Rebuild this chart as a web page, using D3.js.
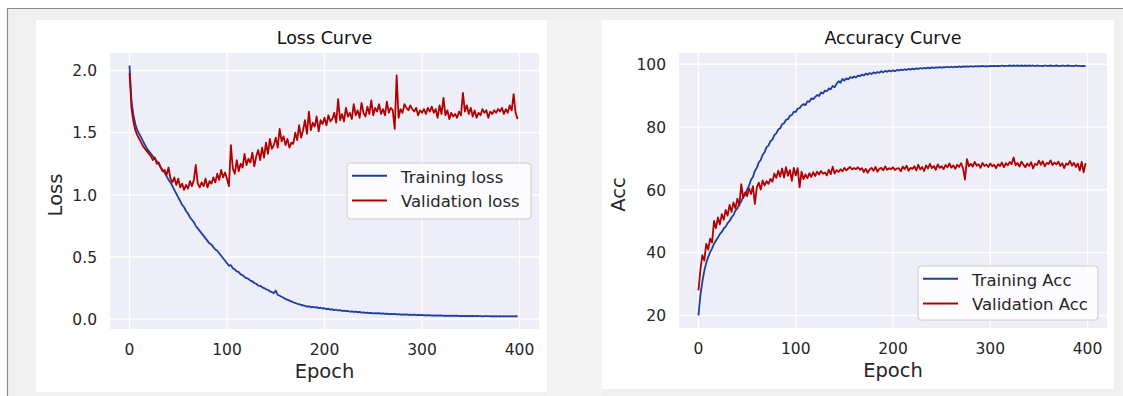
<!DOCTYPE html>
<head>
  <meta charset="utf-8">
  <style>
    body { margin: 0; background: #fff; }
    svg { display: block; font-family: "DejaVu Sans", sans-serif; }
    .plotbg { fill: #eeeef8; }
    .grid line { stroke: #fff; stroke-width: 1.3; }
    .tick-label { font-size: 15.5px; fill: #262626; }
    .axis-title { font-size: 19.5px; fill: #262626; }
    .chart-title { font-size: 17.5px; fill: #111; }
    .legend text { font-size: 16.5px; fill: #262626; }
    .train { stroke: #1c3f9f; }
    .valid { stroke: #b10000; }
  </style>
  <script src="https://d3js.org/d3.v7.min.js"></script>
</head>

<body>
  <div id="content"></div>
  <script>
  // epochs (x), every 2nd epoch
  var epochs = d3.range(0, 400, 2);

  var trainLoss = [
    2.04, 1.76, 1.64, 1.57, 1.52, 1.49, 1.46, 1.43, 1.40, 1.37,
    1.35, 1.33, 1.31, 1.29, 1.27, 1.25, 1.22, 1.20, 1.18, 1.15,
    1.12, 1.10, 1.07, 1.04, 1.01, 0.98, 0.95, 0.92, 0.90, 0.87,
    0.85, 0.82, 0.80, 0.78, 0.75, 0.73, 0.71, 0.69, 0.67, 0.65,
    0.63, 0.61, 0.60, 0.58, 0.56, 0.55, 0.53, 0.51, 0.49, 0.47,
    0.45, 0.43, 0.435, 0.41, 0.40, 0.385, 0.38, 0.36, 0.355, 0.34,
    0.33, 0.325, 0.31, 0.305, 0.29, 0.285, 0.27, 0.268, 0.258, 0.25,
    0.24, 0.236, 0.224, 0.218, 0.208, 0.23, 0.196, 0.188, 0.18, 0.172,
    0.162, 0.157, 0.149, 0.143, 0.136, 0.132, 0.124, 0.121, 0.114, 0.112,
    0.108, 0.101, 0.104, 0.096, 0.099, 0.094, 0.097, 0.089, 0.092, 0.086,
    0.088, 0.081, 0.084, 0.077, 0.080, 0.073, 0.076, 0.070, 0.073, 0.066,
    0.069, 0.064, 0.066, 0.061, 0.063, 0.058, 0.060, 0.056, 0.058, 0.053,
    0.055, 0.051, 0.053, 0.049, 0.051, 0.047, 0.049, 0.046, 0.048, 0.044,
    0.046, 0.043, 0.045, 0.041, 0.043, 0.040, 0.042, 0.039, 0.040, 0.037,
    0.039, 0.036, 0.038, 0.035, 0.037, 0.034, 0.036, 0.033, 0.035, 0.032,
    0.034, 0.031, 0.033, 0.030, 0.032, 0.029, 0.031, 0.029, 0.030, 0.028,
    0.030, 0.027, 0.029, 0.027, 0.029, 0.026, 0.028, 0.026, 0.028, 0.025,
    0.027, 0.025, 0.027, 0.025, 0.026, 0.024, 0.026, 0.024, 0.026, 0.024,
    0.025, 0.023, 0.025, 0.024, 0.025, 0.023, 0.025, 0.023, 0.024, 0.023,
    0.024, 0.022, 0.024, 0.023, 0.024, 0.022, 0.024, 0.023, 0.024, 0.023
  ];

  var valLoss = [
    1.98, 1.70, 1.59, 1.52, 1.48, 1.45, 1.42, 1.39, 1.37, 1.35,
    1.33, 1.31, 1.28, 1.30, 1.25, 1.26, 1.22, 1.19, 1.20, 1.16,
    1.22, 1.13, 1.10, 1.14, 1.08, 1.13, 1.06, 1.09, 1.04, 1.08,
    1.05, 1.11, 1.07, 1.12, 1.24, 1.09, 1.06, 1.10, 1.07, 1.13,
    1.06, 1.11, 1.09, 1.14, 1.10, 1.17, 1.12, 1.20, 1.14, 1.18,
    1.13, 1.07, 1.40, 1.21, 1.17, 1.28, 1.19, 1.25, 1.22, 1.33,
    1.24, 1.29, 1.26, 1.34, 1.23, 1.31, 1.36, 1.28, 1.38, 1.30,
    1.42, 1.33, 1.45, 1.37, 1.40, 1.46, 1.38, 1.53, 1.43, 1.47,
    1.40, 1.45, 1.38, 1.42, 1.41, 1.50, 1.44, 1.56, 1.46, 1.52,
    1.60, 1.49, 1.67, 1.52, 1.58, 1.55, 1.63, 1.51, 1.60, 1.57,
    1.62, 1.56, 1.64, 1.59, 1.61, 1.66, 1.58, 1.77, 1.60, 1.65,
    1.59, 1.70, 1.63, 1.66, 1.61, 1.73, 1.64, 1.68, 1.62, 1.74,
    1.66, 1.63, 1.71, 1.65, 1.76, 1.64, 1.70, 1.67, 1.73, 1.65,
    1.69, 1.64, 1.75, 1.66, 1.70, 1.68, 1.53, 1.96, 1.62, 1.69,
    1.66, 1.73, 1.70, 1.68, 1.72, 1.69, 1.67, 1.70, 1.64, 1.68,
    1.66, 1.69, 1.65, 1.70, 1.67, 1.71, 1.66, 1.69, 1.62, 1.72,
    1.65, 1.78, 1.64, 1.68, 1.61, 1.66, 1.63, 1.65, 1.62, 1.67,
    1.64, 1.82, 1.67, 1.72, 1.65, 1.70, 1.63, 1.68, 1.62, 1.66,
    1.64, 1.69, 1.66, 1.68, 1.62, 1.67, 1.65, 1.68, 1.66, 1.69,
    1.67, 1.70, 1.65, 1.69, 1.66, 1.72, 1.68, 1.81, 1.66, 1.61
  ];

  var trainAcc = [
    20.0, 26.5, 30.8, 34.2, 36.8, 38.6, 40.2, 41.4, 42.8, 43.9,
    44.8, 45.9, 46.6, 47.7, 48.3, 49.4, 50.1, 51.2, 52.0, 53.4,
    54.1, 55.5, 56.3, 57.8, 58.4, 60.1, 61.3, 63.2, 64.1, 66.0,
    67.0, 68.7, 69.5, 71.2, 72.0, 73.6, 74.1, 75.5, 76.0, 77.4,
    78.0, 79.2, 79.6, 80.9, 81.2, 82.3, 82.5, 83.6, 83.8, 84.9,
    84.8, 85.9, 86.0, 86.9, 87.3, 87.0, 88.2, 88.0, 89.1, 88.9,
    89.6, 90.2, 89.9, 91.0, 90.7, 91.6, 91.4, 92.3, 92.0, 93.1,
    92.7, 93.8, 94.6, 94.1, 95.3, 94.8, 95.5, 95.2, 95.9, 95.6,
    96.1, 95.8, 96.4, 96.2, 96.7, 96.4, 97.0, 96.7, 97.2, 96.9,
    97.4, 97.1, 97.5, 97.3, 97.8, 97.4, 97.9, 97.6, 98.0, 97.7,
    98.1, 97.8, 98.2, 98.0, 98.3, 98.1, 98.4, 98.2, 98.5, 98.3,
    98.6, 98.4, 98.7, 98.5, 98.8, 98.6, 98.8, 98.7, 98.9, 98.7,
    99.0, 98.8, 99.0, 98.9, 99.1, 98.9, 99.1, 99.0, 99.2, 99.0,
    99.2, 99.0, 99.2, 99.1, 99.3, 99.1, 99.3, 99.2, 99.3, 99.2,
    99.4, 99.2, 99.4, 99.3, 99.4, 99.3, 99.5, 99.3, 99.4, 99.3,
    99.5, 99.4, 99.5, 99.4, 99.5, 99.4, 99.6, 99.4, 99.5, 99.5,
    99.6, 99.5, 99.6, 99.5, 99.6, 99.5, 99.6, 99.5, 99.6, 99.5,
    99.6, 99.5, 99.6, 99.4, 99.6, 99.5, 99.5, 99.4, 99.6, 99.5,
    99.5, 99.6, 99.5, 99.5, 99.6, 99.5, 99.4, 99.6, 99.5, 99.5,
    99.6, 99.5, 99.5, 99.4, 99.6, 99.5, 99.5, 99.4, 99.5, 99.4
  ];

  var valAcc = [
    28.0, 34.5, 39.2, 37.5, 42.8, 41.0, 44.5, 43.2, 50.1, 47.8,
    51.2, 49.0, 52.3, 50.5, 53.6, 51.8, 55.2, 53.0, 56.0, 54.1,
    57.2, 55.0, 61.8, 57.4, 59.2, 58.0, 60.5, 58.7, 61.2, 55.5,
    60.8, 62.3, 60.1, 63.0, 61.4, 62.8, 61.9, 63.5, 62.6, 65.2,
    63.8, 66.1, 64.2, 66.8, 63.9, 67.2, 64.5, 66.3, 62.9, 67.0,
    64.6, 66.9, 60.8, 65.8, 63.4, 64.9, 63.7, 65.3, 64.1, 65.6,
    64.4, 65.8, 64.9, 66.0, 65.1, 65.5, 64.6, 66.4, 65.0, 67.4,
    65.2, 66.3, 65.7, 66.6, 65.9, 67.0, 66.2, 66.8, 67.3, 66.5,
    67.0, 66.6, 67.2, 66.4, 66.9, 65.7, 66.7, 65.4, 66.5, 67.0,
    66.1, 67.3, 65.8, 66.7, 67.0, 66.2, 67.5, 66.4, 66.9, 66.6,
    67.2, 66.3, 66.8, 66.9, 65.9, 67.4, 66.6, 67.7, 66.1, 67.0,
    66.7, 67.5, 66.2, 68.0, 66.5, 67.3, 66.0, 67.8, 66.8, 68.3,
    66.9, 67.6, 66.4, 68.1, 67.0, 67.5, 66.6, 67.9, 67.2, 68.4,
    67.1, 67.8, 66.7, 68.0, 67.3, 68.5, 66.9, 63.3, 69.8, 67.5,
    68.3, 67.4, 68.9, 67.7, 68.2, 67.0, 68.6, 67.6, 68.1, 67.3,
    68.4, 67.5, 68.0, 66.9, 68.2, 67.6, 68.7, 67.2, 68.5, 67.8,
    68.9, 68.2, 70.3, 67.8, 68.6, 67.4, 69.0, 68.1, 67.2, 68.4,
    67.6, 68.8, 66.8, 68.3, 67.9, 69.3, 68.0, 69.1, 67.5, 68.6,
    68.2, 69.4, 67.9, 68.7, 68.1, 69.0, 67.6, 68.5, 66.9, 68.4,
    68.0, 69.2, 67.7, 68.6, 67.3, 68.4, 66.2, 68.9, 65.6, 68.5
  ];

  var xTicks = [0, 100, 200, 300, 400];
  var lossTicks = [0.0, 0.5, 1.0, 1.5, 2.0];
  var accTicks = [20, 40, 60, 80, 100];

  var W = 1123, H = 396;

  var svg = d3.select("#content").append("svg")
      .attr("width", W)
      .attr("height", H);

  // outer frame
  svg.append("rect").attr("x", 7).attr("y", 8).attr("width", W - 7).attr("height", H - 8)
      .attr("fill", "#f0f0f0");
  svg.append("rect").attr("x", 547).attr("y", 20).attr("width", 55).attr("height", H - 20)
      .attr("fill", "#f4f4f4");
  svg.append("line").attr("x1", 7).attr("x2", W).attr("y1", 8.5).attr("y2", 8.5)
      .attr("stroke", "#8c8c8c").attr("stroke-width", 1.2);
  svg.append("line").attr("x1", 7.5).attr("x2", 7.5).attr("y1", 8).attr("y2", H)
      .attr("stroke", "#8c8c8c").attr("stroke-width", 1.2);

  var panels = [
    {
      card: {x: 36, y: 20, w: 511, h: 372},
      plot: {left: 110, top: 53, width: 429, height: 276},
      title: "Loss Curve", ylabel: "Loss",
      yTicks: lossTicks, fmt: d3.format(".1f"),
      train: trainLoss, valid: valLoss,
      names: ["Training loss", "Validation loss"],
      legend: {x: 237, y: 110, w: 184, h: 56}
    },
    {
      card: {x: 602, y: 20, w: 512, h: 369},
      plot: {left: 679, top: 53, width: 428, height: 275},
      title: "Accuracy Curve", ylabel: "Acc",
      yTicks: accTicks, fmt: d3.format("d"),
      train: trainAcc, valid: valAcc,
      names: ["Training Acc", "Validation Acc"],
      legend: {x: 239, y: 213, w: 180, h: 54}
    }
  ];

  panels.forEach(drawPanel);

  function drawPanel(p) {
    svg.append("rect")
      .attr("x", p.card.x).attr("y", p.card.y)
      .attr("width", p.card.w).attr("height", p.card.h)
      .attr("fill", "#fff");

    var width = p.plot.width, height = p.plot.height;
    var g = svg.append("g")
      .attr("transform", "translate(" + p.plot.left + "," + p.plot.top + ")");

    var x = d3.scaleLinear().domain([-20, 420]).range([0, width]);

    // 5% padding around the data, like matplotlib
    var ext = d3.extent(p.train.concat(p.valid));
    var pad = (ext[1] - ext[0]) * 0.05;
    var y = d3.scaleLinear().domain([ext[0] - pad, ext[1] + pad]).range([height, 0]);

    g.append("rect").attr("class", "plotbg")
      .attr("width", width).attr("height", height);

    // grid
    var grid = g.append("g").attr("class", "grid");
    grid.selectAll(".gx").data(xTicks).enter().append("line")
      .attr("x1", function(d) { return x(d); }).attr("x2", function(d) { return x(d); })
      .attr("y1", 0).attr("y2", height);
    grid.selectAll(".gy").data(p.yTicks).enter().append("line")
      .attr("y1", function(d) { return y(d); }).attr("y2", function(d) { return y(d); })
      .attr("x1", 0).attr("x2", width);

    // tick labels
    g.selectAll(".xt").data(xTicks).enter().append("text")
      .attr("class", "tick-label")
      .attr("x", function(d) { return x(d); })
      .attr("y", height + 26)
      .attr("text-anchor", "middle")
      .text(function(d) { return d; });
    g.selectAll(".yt").data(p.yTicks).enter().append("text")
      .attr("class", "tick-label")
      .attr("x", -13)
      .attr("y", function(d) { return y(d) + 5.7; })
      .attr("text-anchor", "end")
      .text(p.fmt);

    // lines
    var line = d3.line()
      .x(function(d, i) { return x(epochs[i]); })
      .y(function(d) { return y(d); });

    g.append("path").datum(p.train).attr("class", "train")
      .attr("fill", "none").attr("stroke-width", 1.8).attr("stroke-linejoin", "round")
      .attr("d", line);
    g.append("path").datum(p.valid).attr("class", "valid")
      .attr("fill", "none").attr("stroke-width", 1.8).attr("stroke-linejoin", "round")
      .attr("d", line);

    // labels
    g.append("text").attr("class", "chart-title")
      .attr("x", width / 2).attr("y", -9)
      .attr("text-anchor", "middle").text(p.title);
    g.append("text").attr("class", "axis-title")
      .attr("x", width / 2).attr("y", height + 49)
      .attr("text-anchor", "middle").text("Epoch");
    g.append("text").attr("class", "axis-title")
      .attr("transform", "translate(" + (-p.plot.left + p.card.x + (p.ylabel === "Loss" ? 26 : 23)) + "," + (height / 2 + 4) + ") rotate(-90)")
      .attr("text-anchor", "middle").text(p.ylabel);

    // legend
    var lg = g.append("g").attr("class", "legend")
      .attr("transform", "translate(" + p.legend.x + "," + p.legend.y + ")");
    lg.append("rect")
      .attr("width", p.legend.w).attr("height", p.legend.h)
      .attr("rx", 3.5)
      .attr("fill", "#fff").attr("fill-opacity", 0.8)
      .attr("stroke", "#cccccc");
    ["train", "valid"].forEach(function(k, i) {
      var ly = 12.8 + i * 24.6;
      lg.append("line").attr("class", k)
        .attr("x1", 5).attr("x2", 40).attr("y1", ly).attr("y2", ly)
        .attr("stroke-width", 2);
      lg.append("text")
        .attr("x", 54).attr("y", ly + 7)
        .text(p.names[i]);
    });
  }
  </script>
</body>
</html>
